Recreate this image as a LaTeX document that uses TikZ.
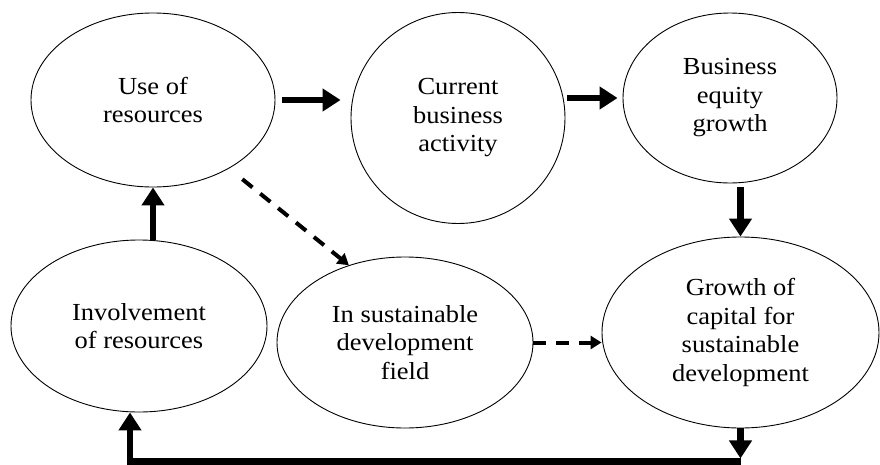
\documentclass[tikz,border=0pt]{standalone}
\usepackage{fontspec}
\setmainfont{Liberation Serif}[FakeStretch=1.08]
\usepackage{tikz}
\usetikzlibrary{shapes.geometric, arrows.meta}
\tikzstyle{bubble} = [ellipse, draw=black, line width=0.9pt, inner sep=0pt, align=center, text centered, font=\fontsize{24.5pt}{28.5pt}\selectfont]
\tikzstyle{thickarrow} = [line width=6.5pt, -{Triangle[length=18pt, width=22pt]}]
\tikzstyle{dasharrow} = [line width=4pt, dash pattern=on 13pt off 10pt, -{Triangle[length=11pt, width=13pt]}]

\begin{document}
\begin{tikzpicture}
\useasboundingbox (-153pt,100pt) rectangle (727pt,-364pt);
\node (use) [bubble, minimum width=244pt, minimum height=174pt] {Use of\\resources};
\node (cur) [bubble, node distance=305pt, right of=use, yshift=-18pt, minimum width=214pt, minimum height=211pt] {Current\\business\\activity};
\node (biz) [bubble, node distance=272pt, right of=cur, yshift=20pt, minimum width=214pt, minimum height=170pt] {Business\\equity\\growth};
\node (grow) [bubble, node distance=234.5pt, below of=biz, xshift=10.5pt, minimum width=277pt, minimum height=191pt] {Growth of\\capital for\\sustainable\\development};
\node (sus) [bubble, node distance=335.5pt, left of=grow, yshift=-10pt, minimum width=256pt, minimum height=171pt] {In sustainable\\development\\field};
\node (inv) [bubble, node distance=226pt, below of=use, xshift=-14pt, minimum width=256pt, minimum height=172pt] {Involvement\\of resources};
\coordinate (loopR) at ([yshift=-30pt]grow.south);
\coordinate (loopB) at ([yshift=-3pt]loopR);
\coordinate (loopL) at ([xshift=-9pt]inv.south);

\draw [thickarrow, shorten <=7pt, shorten >=10pt] (use.east) -- (use.east -| cur.west);
\draw [thickarrow, shorten <=2pt, shorten >=5pt] (cur.east |- biz.west) -- (biz.west);
\draw [thickarrow, shorten <=4pt] (grow.north |- biz.south) -- (grow.north);
\draw [thickarrow] (inv.north -| use.south) -- (use.south);
\draw [dasharrow, shorten <=17pt] (use.-42) -- (sus.126);
\draw [dasharrow] (sus.east) -- (sus.east -| grow.west);
\draw [thickarrow] (grow.south) -- (loopR);
\draw [thickarrow] (loopB) -| (loopL);
\end{tikzpicture}
\end{document}
